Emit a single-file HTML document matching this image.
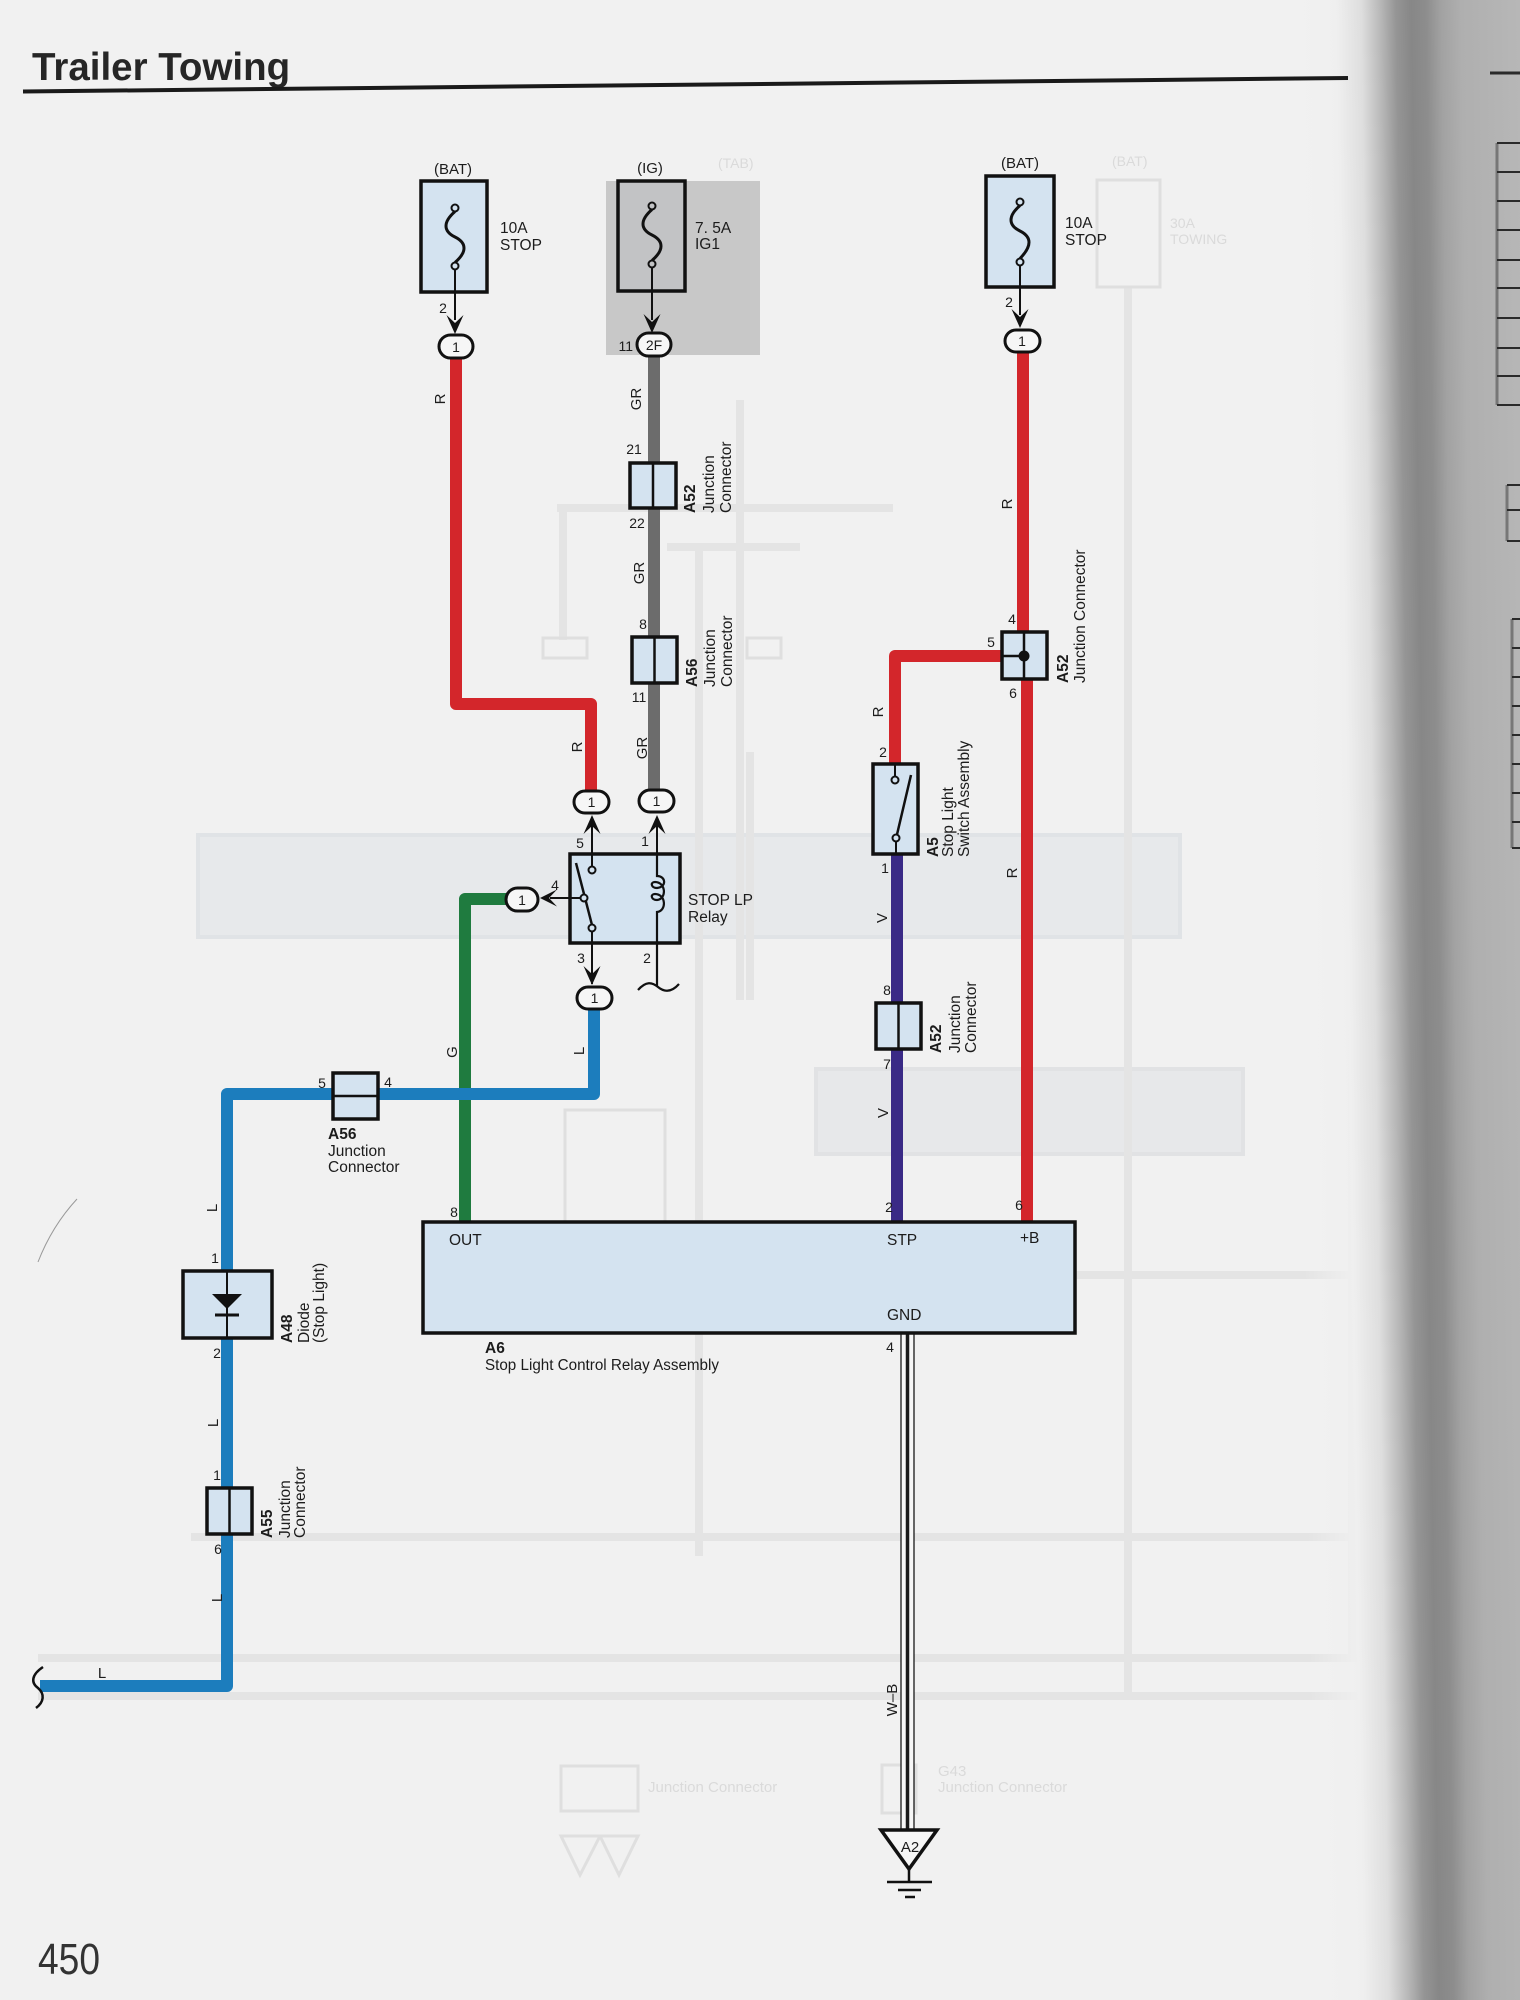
<!DOCTYPE html>
<html><head><meta charset="utf-8">
<style>
html,body{margin:0;padding:0;background:#f1f1f1;width:1520px;height:2000px;overflow:hidden;}
body{position:relative;}
svg{position:absolute;left:0;top:0;display:block;}
text{font-family:"Liberation Sans",Arial,sans-serif;fill:#1c1c1c;}
.p{font-size:14px;text-anchor:middle;}
.w{font-size:15px;text-anchor:middle;}
.l{font-size:15.5px;}
.b{font-weight:bold;}
.g{fill:#dadada;}
</style></head><body>
<svg width="1520" height="2000" viewBox="0 0 1520 2000" xmlns="http://www.w3.org/2000/svg">
<defs>
<linearGradient id="sh" gradientUnits="userSpaceOnUse" x1="1300" y1="1000" x2="1540" y2="1000" gradientTransform="rotate(-0.8 1420 1000)">
<stop offset="0" stop-color="#f1f1f1" stop-opacity="0"/>
<stop offset="0.208" stop-color="#efefef"/>
<stop offset="0.3125" stop-color="#dedede"/>
<stop offset="0.396" stop-color="#b6b6b6"/>
<stop offset="0.458" stop-color="#959595"/>
<stop offset="0.521" stop-color="#878787"/>
<stop offset="0.583" stop-color="#8d8d8d"/>
<stop offset="0.646" stop-color="#a2a2a2"/>
<stop offset="0.729" stop-color="#afafaf"/>
<stop offset="1" stop-color="#b8b8b8"/>
</linearGradient>
</defs>
<rect x="0" y="0" width="1520" height="2000" fill="#f1f1f1"/>

<!-- ghost bleed-through layer -->
<g>
<rect x="198" y="835" width="982" height="102" fill="#e7e9eb" stroke="#e0e3e6" stroke-width="4"/>
<rect x="816" y="1069" width="427" height="85" fill="#e7e8ea" stroke="#e1e2e4" stroke-width="4"/>
<g fill="none" stroke="#e4e4e4" stroke-width="8">
<path d="M1128,287 V1700"/>
<path d="M699,548 V1556"/>
<path d="M557,508 H893"/>
<path d="M563,508 V640"/>
<path d="M740,400 V1000"/>
<path d="M667,547 H800"/>
<path d="M969,1275 H1362"/>
<path d="M191,1537 H1362"/>
<path d="M38,1658 H1366"/>
<path d="M38,1696 H1366"/>
<path d="M750,752 V1000"/>
<path d="M1352,760 V1660"/>
</g>
<g fill="none" stroke="#dfdfdf" stroke-width="3">
<rect x="1097" y="180" width="63" height="107"/>
<rect x="543" y="638" width="44" height="20"/>
<rect x="747" y="638" width="34" height="20"/>
<rect x="565" y="1110" width="100" height="180"/>
<circle cx="600" cy="1270" r="10"/>
<circle cx="640" cy="1270" r="10"/>
<rect x="882" y="1765" width="34" height="48"/>
<rect x="561" y="1766" width="77" height="45"/>
<path d="M561,1836 H600 L580,1875 Z M600,1836 H638 L619,1875 Z"/>
<path d="M1362,1265 q8,10 0,20 M1362,1527 q8,10 0,20 M1366,1648 q8,10 0,20 M1366,1686 q8,10 0,20"/>
</g>
<text class="g" x="1112" y="166" style="font-size:14px">(BAT)</text>
<text class="g" x="1170" y="228" style="font-size:14px">30A</text>
<text class="g" x="1170" y="244" style="font-size:14px">TOWING</text>
<text class="g" x="718" y="168" style="font-size:14px">(TAB)</text>
<text class="g" x="938" y="1776" style="font-size:15px">G43</text>
<text class="g" x="938" y="1792" style="font-size:15px">Junction Connector</text>
<text class="g" x="648" y="1792" style="font-size:15px">Junction Connector</text>
</g>

<!-- right edge page shadow -->
<polygon points="1280,0 1520,0 1520,2000 1280,2000" fill="url(#sh)"/>
<g stroke="#2a2a2a" stroke-width="2" fill="none">
<path d="M1490,73 H1520" stroke-width="3"/>
<path d="M1497,143 V405" stroke="#777" stroke-width="3"/>
<path d="M1497,143 H1520 M1497,172 H1520 M1497,201 H1520 M1497,230 H1520 M1497,260 H1520 M1497,288 H1520 M1497,318 H1520 M1497,348 H1520 M1497,376 H1520 M1497,405 H1520"/>
<path d="M1507,485 V541" stroke="#777" stroke-width="3"/>
<path d="M1507,485 H1520 M1507,510 H1520 M1507,541 H1520"/>
<path d="M1512,619 V848" stroke="#777" stroke-width="3"/>
<path d="M1512,619 H1520 M1512,648 H1520 M1512,677 H1520 M1512,706 H1520 M1512,735 H1520 M1512,764 H1520 M1512,793 H1520 M1512,822 H1520 M1512,848 H1520"/>
</g>

<!-- title -->
<text x="32" y="80" style="font-size:38.5px;font-weight:bold;fill:#262626">Trailer Towing</text>
<line x1="23" y1="91.5" x2="1348" y2="78" stroke="#1a1a1a" stroke-width="4"/>
<path d="M77,1199 Q52,1226 38,1262" fill="none" stroke="#999" stroke-width="1"/>

<!-- middle gray block -->
<rect x="606" y="181" width="154" height="174" fill="#c8c8c8"/>

<!-- WIRES -->
<g fill="none" stroke-linejoin="round" stroke-width="12">
<path d="M456,358 V704 H591 V791" stroke="#d3262b"/>
<path d="M654,356 V790" stroke="#6c6c6c"/>
<path d="M1023,352 V640" stroke="#d3262b"/>
<path d="M1027,670 V1222" stroke="#d3262b"/>
<path d="M895,765 V656 H1005" stroke="#d3262b"/>
<path d="M507,899 H465 V1222" stroke="#1f7b3f"/>
<path d="M594,1008 V1094 H227 V1686 H40" stroke="#1c7dbd"/>
<path d="M897,854 V1222" stroke="#3a2a86"/>
</g>

<!-- ground wire W-B -->
<rect x="901" y="1333" width="13" height="497" fill="#f6f6f6"/>
<g stroke="#1a1a1a" fill="none">
<path d="M901,1333 V1830 M914,1333 V1830" stroke-width="1.3"/>
<path d="M907.5,1333 V1830" stroke-width="3.5"/>
</g>

<!-- LEFT FUSE -->
<text class="w" x="453" y="174">(BAT)</text>
<rect x="421" y="181" width="66" height="111" fill="#d4e3f0" stroke="#111" stroke-width="3.5"/>
<path d="M455,211.5 C443,222 443,231 455,237 C467,243 467,252 455,262.5" fill="none" stroke="#111" stroke-width="3"/>
<circle cx="455" cy="208" r="3.5" fill="#d4e3f0" stroke="#111" stroke-width="2"/>
<circle cx="455" cy="266" r="3.5" fill="#d4e3f0" stroke="#111" stroke-width="2"/>
<path d="M455,269.5 V320" stroke="#111" stroke-width="2"/>
<polygon points="446.5,315 455,323 463.5,315 455,334" fill="#111"/>
<text class="l" x="500" y="233">10A</text>
<text class="l" x="500" y="250">STOP</text>
<text class="p" x="443" y="313">2</text>
<rect x="439" y="335" width="34" height="23" rx="11.5" fill="#f6f6f6" stroke="#111" stroke-width="3"/>
<text class="p" x="456" y="352">1</text>

<!-- MIDDLE FUSE -->
<text class="w" x="650" y="173">(IG)</text>
<rect x="618" y="181" width="67" height="110" fill="#c2c3c5" stroke="#111" stroke-width="3.5"/>
<path d="M652,209.5 C640,220 640,229 652,235 C664,241 664,250 652,260.5" fill="none" stroke="#111" stroke-width="3"/>
<circle cx="652" cy="206" r="3.5" fill="#c2c3c5" stroke="#111" stroke-width="2"/>
<circle cx="652" cy="264" r="3.5" fill="#c2c3c5" stroke="#111" stroke-width="2"/>
<path d="M652,267.5 V320" stroke="#111" stroke-width="2"/>
<polygon points="643.5,314 652,322 660.5,314 652,333" fill="#111"/>
<text class="l" x="695" y="233">7. 5A</text>
<text class="l" x="695" y="249">IG1</text>
<text class="p" x="633" y="351" style="text-anchor:end">11</text>
<rect x="637" y="333" width="34" height="23" rx="11.5" fill="#f6f6f6" stroke="#111" stroke-width="3"/>
<text class="p" x="654" y="350">2F</text>

<!-- RIGHT FUSE -->
<text class="w" x="1020" y="168">(BAT)</text>
<rect x="986" y="176" width="68" height="111" fill="#d4e3f0" stroke="#111" stroke-width="3.5"/>
<path d="M1020,205.5 C1008,216 1008,225 1020,231 C1032,237 1032,246 1020,258.5" fill="none" stroke="#111" stroke-width="3"/>
<circle cx="1020" cy="202" r="3.5" fill="#d4e3f0" stroke="#111" stroke-width="2"/>
<circle cx="1020" cy="262" r="3.5" fill="#d4e3f0" stroke="#111" stroke-width="2"/>
<path d="M1020,265.5 V315" stroke="#111" stroke-width="2"/>
<polygon points="1011.5,309 1020,317 1028.5,309 1020,328" fill="#111"/>
<text class="l" x="1065" y="228">10A</text>
<text class="l" x="1065" y="245">STOP</text>
<text class="p" x="1009" y="307">2</text>
<rect x="1005" y="330" width="35" height="22" rx="11" fill="#f6f6f6" stroke="#111" stroke-width="3"/>
<text class="p" x="1022" y="346">1</text>

<!-- A52 (gray) -->
<rect x="630" y="463" width="46" height="45" fill="#d4e3f0" stroke="#111" stroke-width="3.5"/>
<path d="M653,463 V508" stroke="#111" stroke-width="2.5"/>
<text class="p" x="634" y="454">21</text>
<text class="p" x="637" y="528">22</text>
<g transform="translate(695,513) rotate(-90)"><text class="l b" x="0" y="0">A52</text></g>
<g transform="translate(714,513) rotate(-90)"><text class="l" x="0" y="0">Junction</text></g>
<g transform="translate(731,513) rotate(-90)"><text class="l" x="0" y="0">Connector</text></g>

<!-- A56 (gray) -->
<rect x="632" y="637" width="45" height="46" fill="#d4e3f0" stroke="#111" stroke-width="3.5"/>
<path d="M654.5,637 V683" stroke="#111" stroke-width="2.5"/>
<text class="p" x="643" y="629">8</text>
<text class="p" x="639" y="702">11</text>
<g transform="translate(697,687) rotate(-90)"><text class="l b" x="0" y="0">A56</text></g>
<g transform="translate(715,687) rotate(-90)"><text class="l" x="0" y="0">Junction</text></g>
<g transform="translate(732,687) rotate(-90)"><text class="l" x="0" y="0">Connector</text></g>

<!-- RELAY -->
<rect x="574" y="791" width="35" height="22" rx="11" fill="#f6f6f6" stroke="#111" stroke-width="3"/>
<text class="p" x="591.5" y="807">1</text>
<rect x="639" y="790" width="35" height="22" rx="11" fill="#f6f6f6" stroke="#111" stroke-width="3"/>
<text class="p" x="656.5" y="806">1</text>
<polygon points="592,815 600.5,834 592,826 583.5,834" fill="#111"/>
<polygon points="657,815 665.5,834 657,826 648.5,834" fill="#111"/>
<path d="M592,826 V854 M657,826 V854" stroke="#111" stroke-width="2"/>
<text class="p" x="580" y="848">5</text>
<text class="p" x="645" y="846">1</text>
<rect x="570" y="854" width="110" height="89" fill="#d4e3f0" stroke="#111" stroke-width="3.5"/>
<g stroke="#111" fill="none" stroke-width="2">
<path d="M592,854 V866.5"/>
<path d="M576,863 L592,925" stroke-width="2.5"/>
<path d="M592,931.5 V984"/>
<path d="M580.5,898 H550"/>
<path d="M657,854 V876 C666,876 667,887 657,888 C651,888 650,882 655,882 C666,882 667,899 657,900 C651,900 650,894 655,894 C666,894 667,911 657,912 V987" stroke-width="2.2"/>
<path d="M638,990 C646,981 652,982 658,987 C664,992 671,993 679,984" stroke-width="2.2"/>
</g>
<circle cx="592" cy="870" r="3.5" fill="#d4e3f0" stroke="#111" stroke-width="2"/>
<circle cx="584" cy="898" r="3.5" fill="#d4e3f0" stroke="#111" stroke-width="2"/>
<circle cx="592" cy="928" r="3.5" fill="#d4e3f0" stroke="#111" stroke-width="2"/>
<polygon points="540,898 557,889.5 549,898 557,906.5" fill="#111"/>
<text class="p" x="555" y="890">4</text>
<rect x="506" y="888" width="32" height="23" rx="11.5" fill="#f6f6f6" stroke="#111" stroke-width="3"/>
<text class="p" x="522" y="905">1</text>
<text class="l" x="688" y="905">STOP LP</text>
<text class="l" x="688" y="922">Relay</text>
<text class="p" x="581" y="963">3</text>
<text class="p" x="647" y="963">2</text>
<polygon points="583.5,966 592,974 600.5,966 592,985" fill="#111"/>
<rect x="577" y="987" width="35" height="22" rx="11" fill="#f6f6f6" stroke="#111" stroke-width="3"/>
<text class="p" x="594.5" y="1003">1</text>

<!-- A52 right (splice) -->
<rect x="1002" y="632" width="45" height="47" fill="#d4e3f0" stroke="#111" stroke-width="3.5"/>
<path d="M1024,632 V679 M1002,656 H1024" stroke="#111" stroke-width="2.5"/>
<circle cx="1024" cy="656" r="5.5" fill="#111"/>
<text class="p" x="1012" y="624">4</text>
<text class="p" x="991" y="647">5</text>
<text class="p" x="1013" y="698">6</text>
<g transform="translate(1068,683) rotate(-90)"><text class="l b" x="0" y="0">A52</text></g>
<g transform="translate(1085,683) rotate(-90)"><text class="l" x="0" y="0">Junction Connector</text></g>

<!-- A5 stop light switch -->
<rect x="873" y="764" width="45" height="90" fill="#d4e3f0" stroke="#111" stroke-width="3.5"/>
<g stroke="#111" stroke-width="2" fill="none">
<path d="M895,764 V776.5"/>
<path d="M896,841.5 V854"/>
<path d="M897,834.5 L911,775" stroke-width="2.5"/>
</g>
<circle cx="895" cy="780" r="3.5" fill="#d4e3f0" stroke="#111" stroke-width="2"/>
<circle cx="896" cy="838" r="3.5" fill="#d4e3f0" stroke="#111" stroke-width="2"/>
<text class="p" x="883" y="757">2</text>
<text class="p" x="885" y="873">1</text>
<g transform="translate(938,857) rotate(-90)"><text class="l b" x="0" y="0">A5</text></g>
<g transform="translate(953,857) rotate(-90)"><text class="l" x="0" y="0">Stop Light</text></g>
<g transform="translate(969,857) rotate(-90)"><text class="l" x="0" y="0">Switch Assembly</text></g>

<!-- A52 violet -->
<rect x="876" y="1003" width="45" height="46" fill="#d4e3f0" stroke="#111" stroke-width="3.5"/>
<path d="M898.5,1003 V1049" stroke="#111" stroke-width="2.5"/>
<text class="p" x="887" y="995">8</text>
<text class="p" x="887" y="1069">7</text>
<g transform="translate(941,1053) rotate(-90)"><text class="l b" x="0" y="0">A52</text></g>
<g transform="translate(960,1053) rotate(-90)"><text class="l" x="0" y="0">Junction</text></g>
<g transform="translate(976,1053) rotate(-90)"><text class="l" x="0" y="0">Connector</text></g>

<!-- A56 lower -->
<rect x="333" y="1073" width="45" height="46" fill="#d4e3f0" stroke="#111" stroke-width="3.5"/>
<path d="M333,1096 H378" stroke="#111" stroke-width="2.5"/>
<text class="p" x="322" y="1088">5</text>
<text class="p" x="388" y="1087">4</text>
<text class="l b" x="328" y="1139">A56</text>
<text class="l" x="328" y="1156">Junction</text>
<text class="l" x="328" y="1172">Connector</text>

<!-- A48 diode -->
<rect x="183" y="1271" width="89" height="67" fill="#d4e3f0" stroke="#111" stroke-width="3.5"/>
<path d="M227,1271 V1338" stroke="#111" stroke-width="2"/>
<polygon points="212,1294 242,1294 227,1309" fill="#111"/>
<path d="M215,1315 H239" stroke="#111" stroke-width="3"/>
<text class="p" x="215" y="1263">1</text>
<text class="p" x="217" y="1358">2</text>
<g transform="translate(292,1343) rotate(-90)"><text class="l b" x="0" y="0">A48</text></g>
<g transform="translate(309,1343) rotate(-90)"><text class="l" x="0" y="0">Diode</text></g>
<g transform="translate(324,1343) rotate(-90)"><text class="l" x="0" y="0">(Stop Light)</text></g>

<!-- A55 -->
<rect x="207" y="1488" width="45" height="46" fill="#d4e3f0" stroke="#111" stroke-width="3.5"/>
<path d="M229.5,1488 V1534" stroke="#111" stroke-width="2.5"/>
<text class="p" x="217" y="1480">1</text>
<text class="p" x="218" y="1554">6</text>
<g transform="translate(272,1538) rotate(-90)"><text class="l b" x="0" y="0">A55</text></g>
<g transform="translate(290,1538) rotate(-90)"><text class="l" x="0" y="0">Junction</text></g>
<g transform="translate(305,1538) rotate(-90)"><text class="l" x="0" y="0">Connector</text></g>
<path d="M43,1667 C31,1675 31,1683 38,1688 C45,1694 44,1702 36,1708" fill="none" stroke="#111" stroke-width="2.5"/>

<!-- A6 -->
<rect x="423" y="1222" width="652" height="111" fill="#d4e3f0" stroke="#111" stroke-width="3.5"/>
<text class="p" x="454" y="1217">8</text>
<text class="p" x="889" y="1212">2</text>
<text class="p" x="1019" y="1210">6</text>
<text class="l" x="449" y="1245">OUT</text>
<text class="l" x="887" y="1245">STP</text>
<text class="l" x="1020" y="1243">+B</text>
<text class="l" x="887" y="1320">GND</text>
<text class="p" x="890" y="1352">4</text>
<text class="l b" x="485" y="1353">A6</text>
<text class="l" x="485" y="1370" textLength="234" lengthAdjust="spacingAndGlyphs">Stop Light Control Relay Assembly</text>

<!-- ground -->
<polygon points="881,1830 937,1830 909,1869" fill="#f6f6f6" stroke="#111" stroke-width="3.5" stroke-linejoin="miter"/>
<text class="w" x="910" y="1852">A2</text>
<g stroke="#111" stroke-width="2.5">
<path d="M909,1869 V1882"/>
<path d="M887,1882 H932"/>
<path d="M898,1890 H921"/>
<path d="M905,1897 H915"/>
</g>

<!-- wire color labels (rotated) -->
<g>
<text class="w" transform="rotate(-90 445 399)" x="445" y="399">R</text>
<text class="w" transform="rotate(-90 641 399)" x="641" y="399">GR</text>
<text class="w" transform="rotate(-90 644 573)" x="644" y="573">GR</text>
<text class="w" transform="rotate(-90 647 748)" x="647" y="748">GR</text>
<text class="w" transform="rotate(-90 582 747)" x="582" y="747">R</text>
<text class="w" transform="rotate(-90 1012 504)" x="1012" y="504">R</text>
<text class="w" transform="rotate(-90 883 712)" x="883" y="712">R</text>
<text class="w" transform="rotate(-90 1017 873)" x="1017" y="873">R</text>
<text class="w" transform="rotate(-90 887 918)" x="887" y="918">V</text>
<text class="w" transform="rotate(-90 888 1113)" x="888" y="1113">V</text>
<text class="w" transform="rotate(-90 457 1052)" x="457" y="1052">G</text>
<text class="w" transform="rotate(-90 584 1051)" x="584" y="1051">L</text>
<text class="w" transform="rotate(-90 217 1208)" x="217" y="1208">L</text>
<text class="w" transform="rotate(-90 218 1423)" x="218" y="1423">L</text>
<text class="w" transform="rotate(-90 222 1598)" x="222" y="1598">L</text>
<text class="w" transform="rotate(-90 897 1700)" x="897" y="1700">W–B</text>
<text class="w" x="102" y="1678">L</text>
</g>

<!-- page number -->
<text x="38" y="1974" style="font-size:44px;fill:#333" textLength="62" lengthAdjust="spacingAndGlyphs">450</text>
</svg>
</body></html>
